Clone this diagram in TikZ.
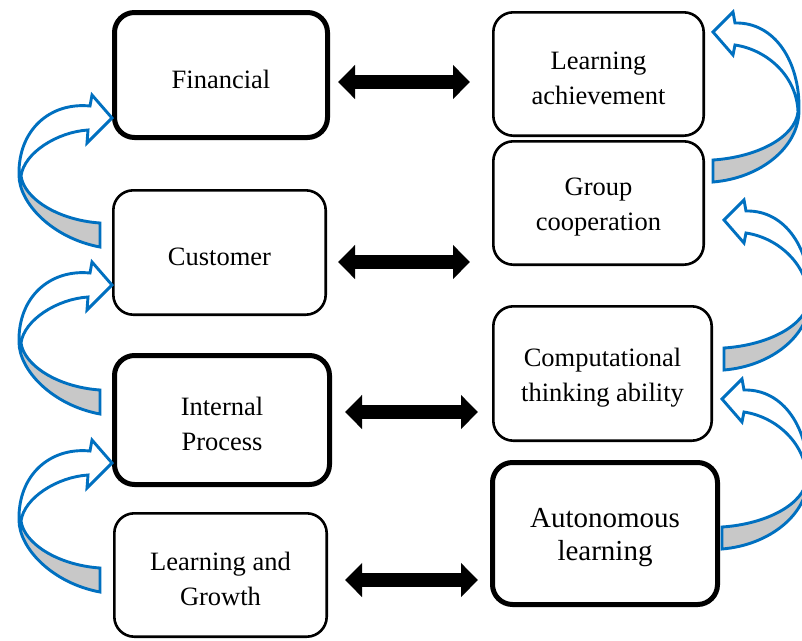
\documentclass[tikz,border=0pt]{standalone}
\usepackage{fontspec}
\setmainfont{Liberation Serif}
\usetikzlibrary{arrows.meta,calc}

\definecolor{loopblue}{RGB}{0,112,192}
\definecolor{loopgray}{RGB}{200,200,200}

\tikzset{
  box/.style={draw, rounded corners=20pt, inner sep=0pt, outer sep=0pt, fill=white},
  thinbox/.style={box, line width=2.6pt},
  thickbox/.style={box, line width=5pt},
  boxtext/.style={align=center, inner sep=0pt, yshift=-4pt,
    font=\fontsize{26.5}{35}\selectfont},
  bigtext/.style={boxtext, font=\fontsize{29}{33}\selectfont},
  dbl/.style={line width=14pt,
    {Triangle[width=33pt,length=17pt]}-{Triangle[width=33pt,length=17pt]}},
  loopline/.style={draw=loopblue, line width=2.9pt, line join=miter},
  loopfill/.style={fill=loopgray},
}

% curved ribbon arrow, tip at the local origin, pointing right
\newcommand{\ribbonleft}{%
  \fill[loopfill] (-93,57) .. controls (-93,85) and (-60,120) .. (-12,129)
    -- (-12,105) .. controls (-55,102) and (-88,80) .. (-91,58) -- cycle;
  \draw[loopline] (-22,-12) -- (-20,-23) -- (0,0) -- (-25,25) -- (-24,12)
    .. controls (-55,14) and (-88,35) .. (-91,58)
    .. controls (-88,80) and (-55,102) .. (-12,105) -- (-12,129)
    .. controls (-60,120) and (-93,85) .. (-93,57)
    .. controls (-94,12) and (-62,-16) .. (-22,-12) -- cycle;
}
% same ribbon for the right-hand column (mirrored by the caller)
\newcommand{\ribbonright}{%
  \fill[loopfill] (-86,78) .. controls (-86,115) and (-48,146) .. (0,150)
    -- (0,128) .. controls (-45,125) and (-82,105) .. (-85,80) -- cycle;
  \draw[loopline] (-22,-9) -- (-20,-20) -- (0,0) -- (-20,23) -- (-22,13)
    .. controls (-55,18) and (-84,45) .. (-85,80)
    .. controls (-82,105) and (-45,125) .. (0,128) -- (0,150)
    .. controls (-48,146) and (-86,115) .. (-86,78)
    .. controls (-87,30) and (-62,-10) .. (-22,-9) -- cycle;
}

\begin{document}
\begin{tikzpicture}[x=1pt, y=-1pt]
  \useasboundingbox[fill=white] (0,0) rectangle (802,640);

  % left column: perspectives
  \node[thickbox, minimum width=213pt, minimum height=125pt,
        label={[boxtext]center:Financial}] (fin) at (221,75) {};
  \node[thinbox, minimum width=212.4pt, minimum height=124.4pt,
        label={[boxtext]center:Customer}] (cus) at (219.5,252.5) {};
  \node[thickbox, minimum width=215pt, minimum height=129pt,
        label={[boxtext]center:{Internal\\Process}}] (ip) at (222,420) {};
  \node[thinbox, minimum width=212.4pt, minimum height=123.4pt,
        label={[boxtext]center:{Learning and\\Growth}}] (lg) at (220.5,575) {};

  % right column: learning outcomes
  \node[thinbox, minimum width=210.4pt, minimum height=123.4pt,
        label={[boxtext]center:{Learning\\achievement}}] (ach) at (598.5,74) {};
  \node[thinbox, minimum width=210.4pt, minimum height=123.4pt,
        label={[boxtext]center:{Group\\cooperation}}] (grp) at (598.5,203) {};
  \node[thinbox, minimum width=218.4pt, minimum height=134.4pt,
        label={[boxtext]center:{Computational\\thinking ability}}] (cmp) at (602.5,373.5) {};
  \node[thickbox, minimum width=225pt, minimum height=142pt,
        label={[bigtext]center:{Autonomous\\learning}}] (aut) at (605,533.5) {};

  % correspondence arrows between the columns
  \path ($(fin.east)+(10.5,7)$) coordinate (a1) ($(ach.west)+(-23.3,0)$) coordinate (b1);
  \draw[dbl] (a1) -- (a1 -| b1);
  \path ($(cus.east)+(12.3,9.5)$) coordinate (a2) ($(grp.west)+(-23.3,0)$) coordinate (b2);
  \draw[dbl] (a2) -- (a2 -| b2);
  \path ($(ip.east)+(15.5,-8)$) coordinate (a3) ($(cmp.west)+(-15.3,0)$) coordinate (b3);
  \draw[dbl] (a3) -- (a3 -| b3);
  \path ($(lg.east)+(18.3,5)$) coordinate (a4) ($(aut.west)+(-14.5,0)$) coordinate (b4);
  \draw[dbl] (a4) -- (a4 -| b4);

  % upward ribbon arrows, left column
  \begin{scope}[shift={(112,118)}] \ribbonleft \end{scope}
  \begin{scope}[shift={(112,285)}] \ribbonleft \end{scope}
  \begin{scope}[shift={(112,463)}] \ribbonleft \end{scope}

  % upward ribbon arrows, right column
  \begin{scope}[shift={(713,32)}, xscale=-1] \ribbonright \end{scope}
  \begin{scope}[shift={(724,220)}, xscale=-1] \ribbonright \end{scope}
  \begin{scope}[shift={(722,399)}, xscale=-1] \ribbonright \end{scope}
\end{tikzpicture}
\end{document}
